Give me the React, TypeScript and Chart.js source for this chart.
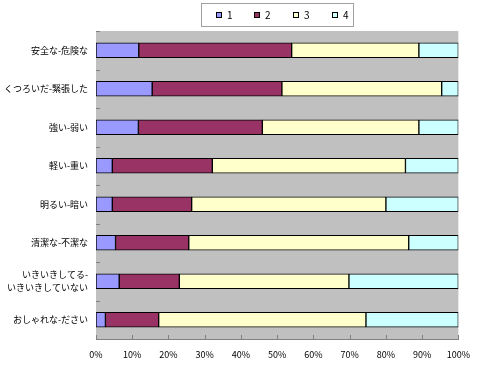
import React, { useEffect, useRef } from "react";
import { Chart, registerables } from "chart.js";

Chart.register(...registerables);

const categories: (string | string[])[] = [
  "安全な-危険な",
  "くつろいだ-緊張した",
  "強い-弱い",
  "軽い-重い",
  "明るい-暗い",
  "清潔な-不潔な",
  ["いきいきしてる-", "いきいきしていない"],
  "おしゃれな-ださい",
];

const series1 = [11.8, 15.5, 11.7, 4.5, 4.5, 5.4, 6.4, 2.6];
const series2 = [42.2, 35.8, 34.2, 27.6, 21.9, 20.2, 16.6, 14.7];
const series3 = [35.1, 44.1, 43.2, 53.3, 53.6, 60.7, 46.8, 57.2];
const series4 = [10.9, 4.6, 10.9, 14.6, 20.0, 13.7, 30.2, 25.5];

const seriesNames = ["1", "2", "3", "4"];
const seriesColors = ["#9999FF", "#993366", "#FFFFCC", "#CCFFFF"];
const xTickValues = [0, 10, 20, 30, 40, 50, 60, 70, 80, 90, 100];

const FONT = '"Noto Sans CJK JP", "Noto Sans", sans-serif';

const extrasPlugin = {
  id: "extras",
  beforeDatasetsDraw(chart: any) {
    const { ctx, chartArea } = chart;
    ctx.save();
    ctx.fillStyle = "#C0C0C0";
    ctx.fillRect(chartArea.left, chartArea.top, chartArea.right - chartArea.left, chartArea.bottom - chartArea.top);
    ctx.restore();
  },
  afterDatasetsDraw(chart: any) {
    const { ctx, chartArea, scales } = chart;
    const xs = scales.x;
    const ys = scales.y;
    ctx.save();
    ctx.strokeStyle = "#808080";
    ctx.lineWidth = 1;
    xTickValues.forEach((v) => {
      const px = Math.round(xs.getPixelForValue(v)) + 0.5;
      ctx.beginPath();
      ctx.moveTo(px, chartArea.bottom);
      ctx.lineTo(px, chartArea.bottom - 4);
      ctx.stroke();
    });
    for (let i = 0; i <= categories.length; i++) {
      const py = Math.round(ys.getPixelForValue(i - 0.5)) + 0.5;
      ctx.beginPath();
      ctx.moveTo(chartArea.left, py);
      ctx.lineTo(chartArea.left + 4, py);
      ctx.stroke();
    }
    ctx.restore();
  },
  afterDraw(chart: any) {
    const { ctx, chartArea } = chart;
    const cx = (chartArea.left + chartArea.right) / 2;
    const boxW = 152;
    const boxH = 23;
    const bx = Math.round(cx - boxW / 2) + 0.5;
    const by = 3.5;
    ctx.save();
    ctx.fillStyle = "#FFFFFF";
    ctx.fillRect(bx, by, boxW, boxH);
    ctx.strokeStyle = "#A0A0A0";
    ctx.lineWidth = 1;
    ctx.strokeRect(bx, by, boxW, boxH);
    ctx.font = `10px ${FONT}`;
    ctx.textBaseline = "middle";
    ctx.textAlign = "left";
    chart.data.datasets.forEach((ds: any, i: number) => {
      const ix = bx + 14 + i * 38.7;
      const iy = by + boxH / 2;
      ctx.fillStyle = ds.backgroundColor;
      ctx.fillRect(Math.round(ix) + 0.5, Math.round(iy - 3) + 0.5, 5, 5);
      ctx.strokeStyle = "#000000";
      ctx.strokeRect(Math.round(ix) + 0.5, Math.round(iy - 3) + 0.5, 5, 5);
      ctx.fillStyle = "#000000";
      ctx.fillText(ds.label, Math.round(ix) + 11, iy);
    });
    ctx.restore();
  },
};

export default function App() {
  const canvasRef = useRef<HTMLCanvasElement | null>(null);

  useEffect(() => {
    document.body.style.margin = "0";
    const canvas = canvasRef.current;
    if (!canvas) return;
    const data = [series1, series2, series3, series4];
    const chart = new Chart(canvas, {
      type: "bar",
      data: {
        labels: categories,
        datasets: data.map((d, i) => ({
          label: seriesNames[i],
          data: d,
          backgroundColor: seriesColors[i],
          borderColor: "#000000",
          borderWidth: 1,
          borderSkipped: false,
          barThickness: 15,
        })),
      },
      options: {
        indexAxis: "y",
        responsive: false,
        maintainAspectRatio: false,
        animation: false,
        devicePixelRatio: 1,
        layout: { padding: { left: 0, right: 21, top: 31, bottom: 0 } },
        plugins: {
          legend: { display: false },
          tooltip: { enabled: false },
        },
        scales: {
          x: {
            stacked: true,
            min: 0,
            max: 100,
            afterFit: (s: any) => {
              s.height = 26;
            },
            ticks: {
              stepSize: 10,
              callback: (v: any) => v + "%",
              font: { size: 9, family: FONT },
              color: "#000000",
              padding: 10,
              maxRotation: 0,
              autoSkip: false,
            },
            grid: { display: false, drawTicks: false },
            border: { display: true, color: "#808080" },
          },
          y: {
            stacked: true,
            afterFit: (s: any) => {
              s.width = 96;
            },
            ticks: {
              font: { size: 9, family: FONT, lineHeight: 1.45 },
              color: "#000000",
              padding: 8,
              autoSkip: false,
            },
            grid: { display: false, drawTicks: false },
            border: { display: true, color: "#808080" },
          },
        },
      },
      plugins: [extrasPlugin],
    });
    return () => chart.destroy();
  }, []);

  return (
    <div style={{ width: 480, height: 365, background: "#FFFFFF" }}>
      <canvas ref={canvasRef} width={480} height={365} style={{ display: "block" }} />
    </div>
  );
}
